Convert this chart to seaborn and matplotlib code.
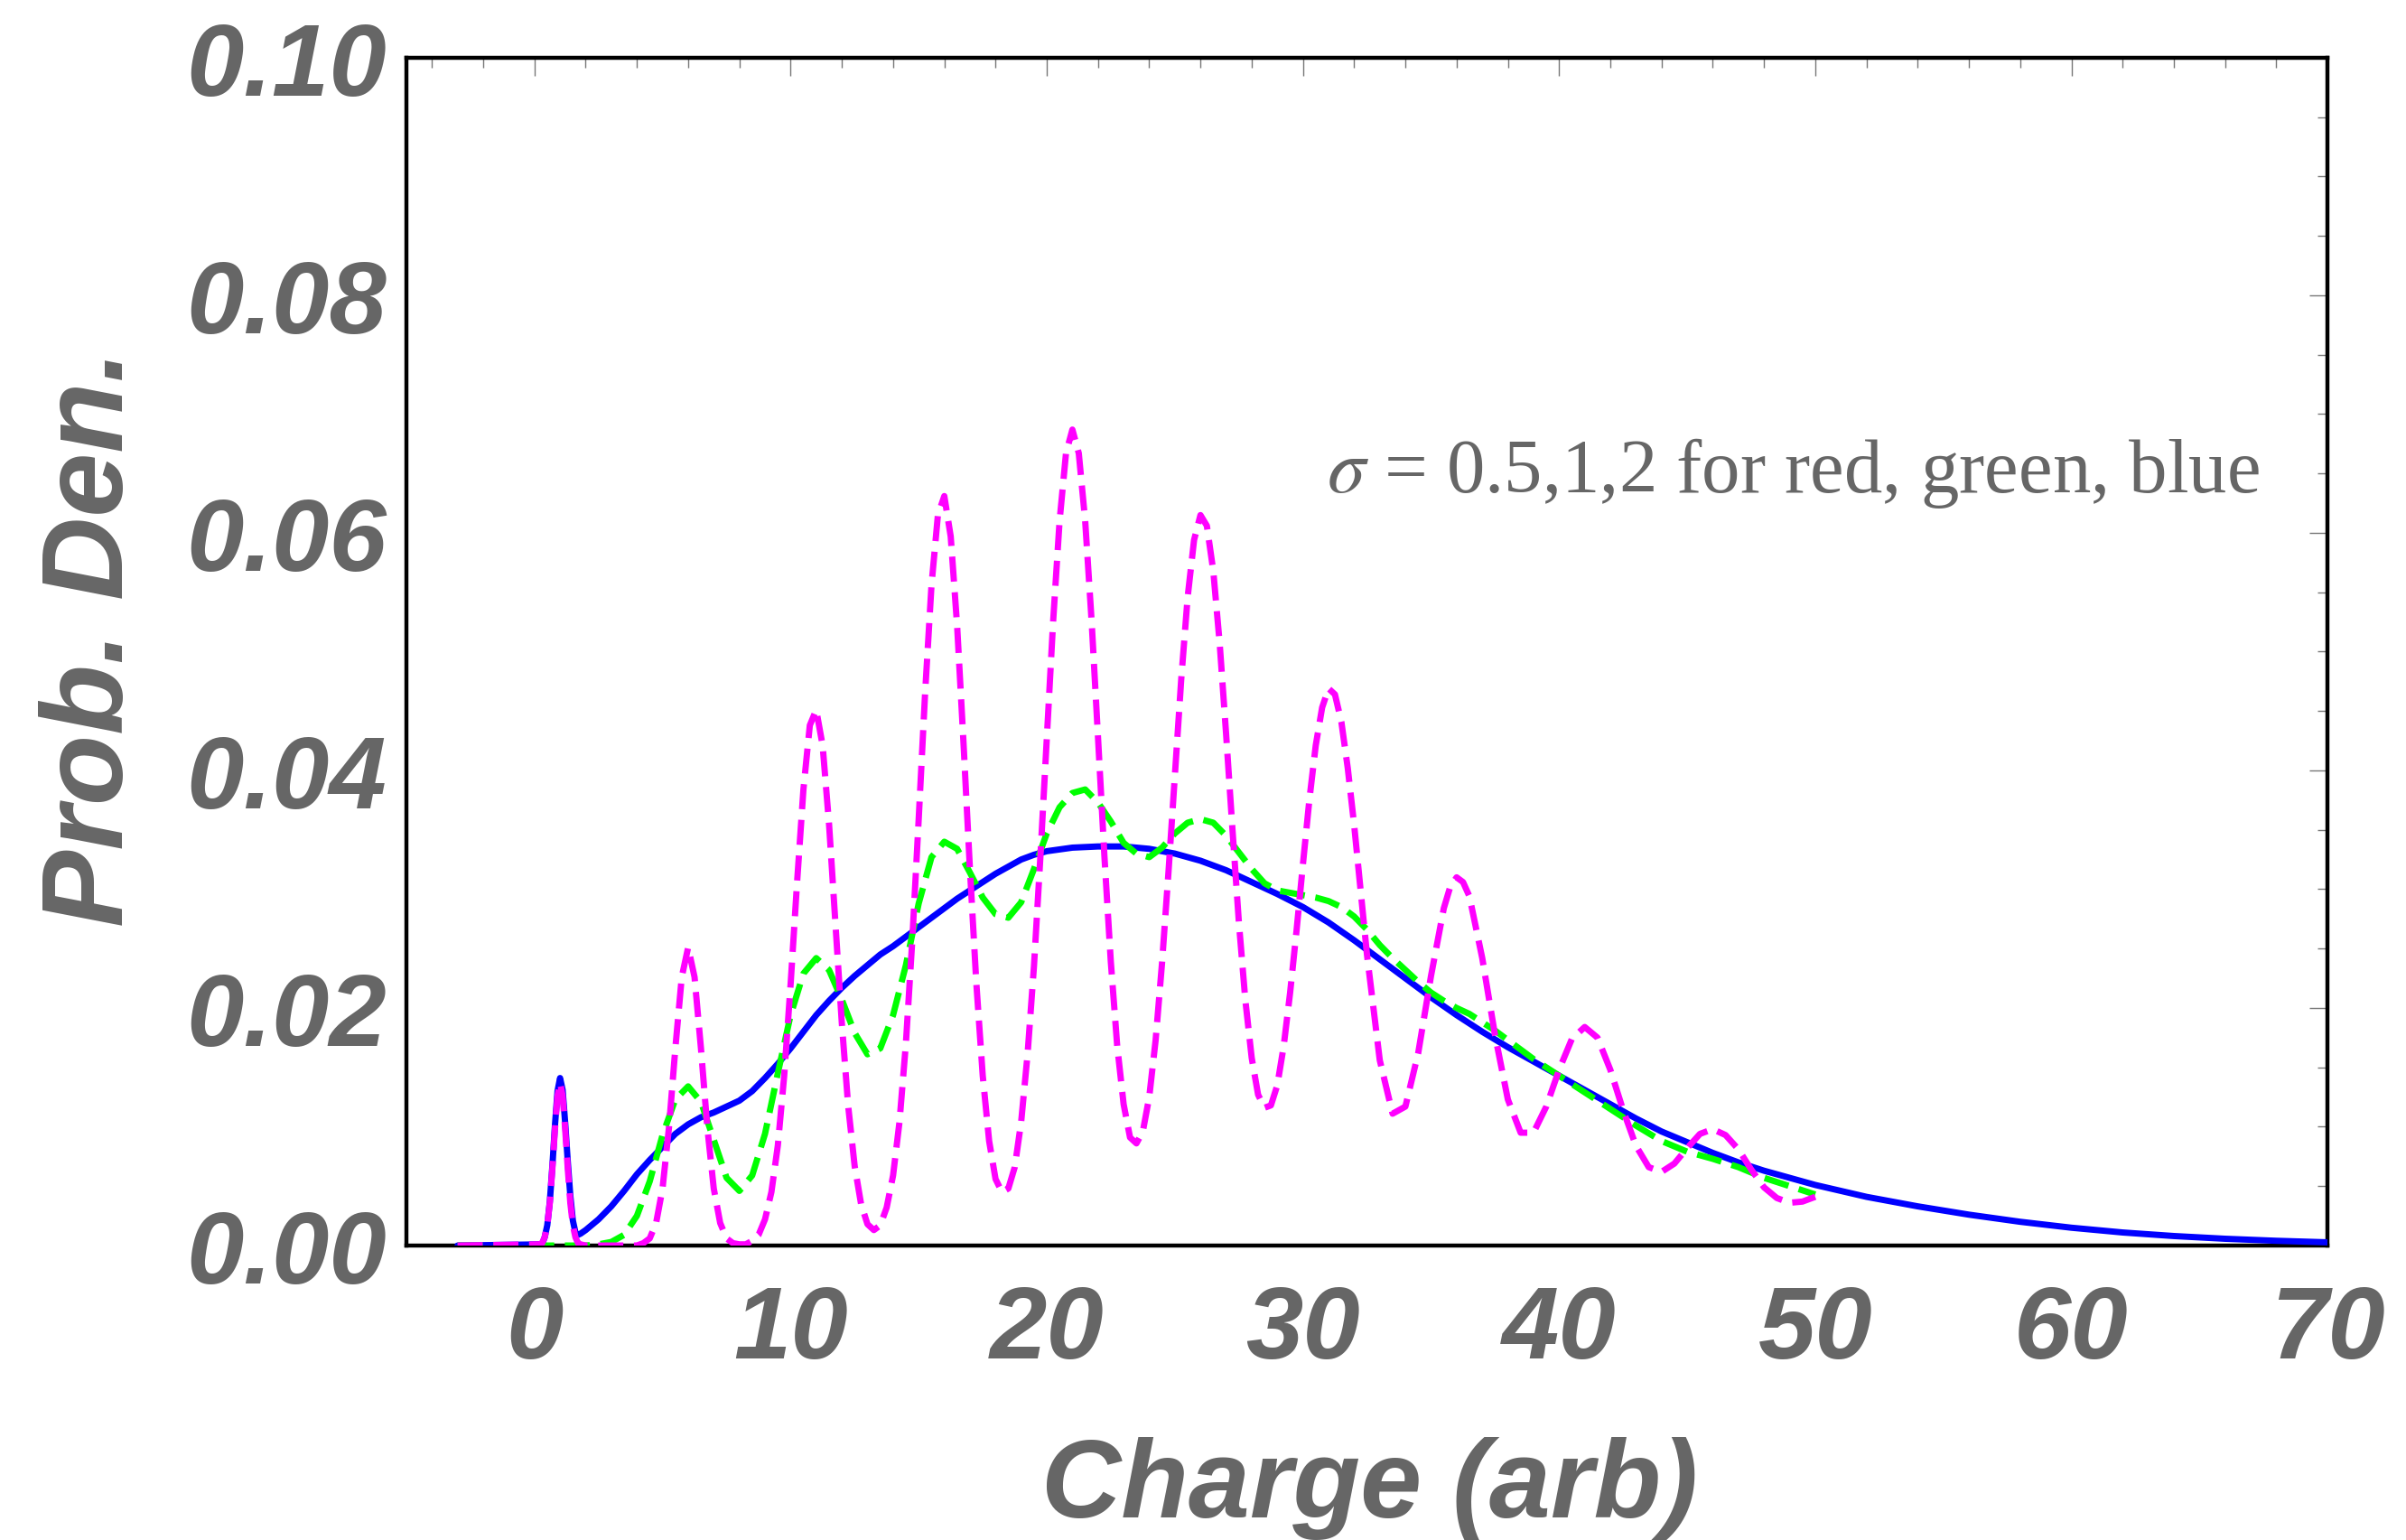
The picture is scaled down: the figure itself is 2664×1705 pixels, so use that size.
import matplotlib
matplotlib.use("Agg")
import matplotlib.pyplot as plt
from matplotlib.ticker import MultipleLocator, NullFormatter
import seaborn as sns
import pandas as pd

sns.set_style("white")
plt.rcParams["font.family"] = ["Liberation Sans", "DejaVu Sans"]
plt.rcParams["mathtext.fontset"] = "stix"

GRAY = "#666666"

# ---------------- data ----------------
x_ticks = [0, 10, 20, 30, 40, 50, 60, 70]
x_tick_labels = ["0", "10", "20", "30", "40", "50", "60", "70"]
y_ticks = [0.00, 0.02, 0.04, 0.06, 0.08, 0.10]
y_tick_labels = ["0.00", "0.02", "0.04", "0.06", "0.08", "0.10"]

# sigma = 2 (blue, solid)
blue_pts = [
    (-3.0, 0.0), (0.3, 0.0001), (0.4, 0.0007), (0.5, 0.0017), (0.6, 0.0037),
    (0.7, 0.0067), (0.8, 0.0101), (0.9, 0.0130), (1.0, 0.0141), (1.1, 0.0131),
    (1.2, 0.0103), (1.3, 0.0071), (1.4, 0.0042), (1.5, 0.0021), (1.6, 0.0011),
    (1.7, 0.0009), (1.8, 0.0010), (2.0, 0.0013), (2.5, 0.0022), (3.0, 0.0033),
    (3.5, 0.0046), (4.0, 0.0060), (4.5, 0.0072), (5.0, 0.0083), (5.5, 0.0094),
    (6.0, 0.0102), (6.5, 0.0108), (7.0, 0.0112), (7.5, 0.0117), (8.0, 0.0122),
    (8.5, 0.0130), (9.0, 0.0141), (9.5, 0.0153), (10.0, 0.0166), (10.5, 0.0180),
    (11.0, 0.0194), (11.5, 0.0206), (12.0, 0.0217), (12.5, 0.0227), (13.0, 0.0236),
    (13.5, 0.0245), (14.0, 0.0252), (14.5, 0.0260), (15.0, 0.0268), (15.5, 0.0276),
    (16.0, 0.0284), (16.5, 0.0292), (17.0, 0.0299), (17.5, 0.0306), (18.0, 0.0313),
    (18.5, 0.0319), (19.0, 0.0325), (19.5, 0.0329), (20.0, 0.0332), (21.0, 0.0335),
    (22.0, 0.0336), (23.0, 0.0336), (24.0, 0.0334), (25.0, 0.0330), (26.0, 0.0324),
    (27.0, 0.0316), (28.0, 0.0306), (29.0, 0.0296), (30.0, 0.0285), (31.0, 0.0272),
    (32.0, 0.0257), (33.0, 0.0241), (34.0, 0.0225), (35.0, 0.0209), (36.0, 0.0194),
    (37.0, 0.0180), (38.0, 0.0167), (39.0, 0.0155), (40.0, 0.0143), (41.0, 0.0131),
    (42.0, 0.0119), (43.0, 0.0107), (44.0, 0.0096), (45.0, 0.0087), (46.0, 0.0078),
    (47.0, 0.0070), (48.0, 0.0063), (49.0, 0.0057), (50.0, 0.0051), (52.0, 0.0041),
    (54.0, 0.0033), (56.0, 0.0026), (58.0, 0.0020), (60.0, 0.00150), (62.0, 0.00110),
    (64.0, 0.00080), (66.0, 0.00057), (68.0, 0.00040), (70.0, 0.00027),
]

# sigma = 1 (green, dashed)
green_pts = [
    (-3.0, 0.0), (2.0, 0.0), (2.5, 0.0001), (3.0, 0.0003), (3.5, 0.0009),
    (4.0, 0.0025), (4.5, 0.0054), (5.0, 0.0093), (5.5, 0.0123), (6.0, 0.0134),
    (6.5, 0.0121), (7.0, 0.0089), (7.5, 0.0057), (8.0, 0.0046), (8.5, 0.0059),
    (9.0, 0.0094), (9.5, 0.0145), (10.0, 0.0194), (10.5, 0.0229), (11.0, 0.0242),
    (11.5, 0.0232), (12.0, 0.0207), (12.5, 0.0179), (13.0, 0.0161), (13.5, 0.0166),
    (14.0, 0.0194), (14.5, 0.0236), (15.0, 0.0288), (15.5, 0.0327), (16.0, 0.0340),
    (16.5, 0.0334), (17.0, 0.0314), (17.5, 0.0293), (18.0, 0.0279), (18.5, 0.0276),
    (19.0, 0.0289), (19.5, 0.0317), (20.0, 0.0347), (20.5, 0.0369), (21.0, 0.0381),
    (21.5, 0.0384), (22.0, 0.0373), (22.5, 0.0357), (23.0, 0.0339), (23.5, 0.0330),
    (24.0, 0.0327), (24.5, 0.0335), (25.0, 0.0347), (25.5, 0.0356), (26.0, 0.0359),
    (26.5, 0.0356), (27.0, 0.0345), (27.5, 0.0331), (28.0, 0.0317), (28.5, 0.0305),
    (29.0, 0.0299), (29.5, 0.0297), (30.0, 0.0295), (30.5, 0.0293), (31.0, 0.0290),
    (31.5, 0.0285), (32.0, 0.0277), (32.5, 0.0266), (33.0, 0.0253), (33.5, 0.0242),
    (34.0, 0.0232), (34.5, 0.0222), (35.0, 0.0213), (35.5, 0.0206), (36.0, 0.0200),
    (36.5, 0.0195), (37.0, 0.0188), (37.5, 0.0181), (38.0, 0.0173), (38.5, 0.0165),
    (39.0, 0.0157), (39.5, 0.0150), (40.0, 0.0143), (41.0, 0.0129), (42.0, 0.0115),
    (43.0, 0.0101), (44.0, 0.0088), (45.0, 0.0079), (46.0, 0.0073), (47.0, 0.0066),
    (48.0, 0.0057), (49.0, 0.0050), (50.0, 0.0043),
]

# sigma = 0.5 (magenta, dashed)
magenta_pts = [
    (-3.0, 0.0), (0.2, 0.0001), (0.3, 0.0002), (0.4, 0.0007), (0.5, 0.0017),
    (0.6, 0.0036), (0.7, 0.0065), (0.8, 0.0098), (0.9, 0.0126), (1.0, 0.0137),
    (1.1, 0.0126), (1.2, 0.0098), (1.3, 0.0065), (1.4, 0.0036), (1.5, 0.0017),
    (1.6, 0.0007), (1.7, 0.0002), (1.8, 0.0001), (2.0, 0.0), (3.0, 0.0),
    (4.0, 0.0), (4.25, 0.0002), (4.5, 0.0006), (4.75, 0.0019), (5.0, 0.0048),
    (5.25, 0.0099), (5.5, 0.0166), (5.75, 0.0226), (6.0, 0.0251), (6.25, 0.0226),
    (6.5, 0.0166), (6.75, 0.0099), (7.0, 0.0048), (7.25, 0.0019), (7.5, 0.0006),
    (7.75, 0.0002), (8.0, 0.0001), (8.25, 0.0001), (8.5, 0.0004), (8.75, 0.0009),
    (9.0, 0.0022), (9.25, 0.0045), (9.5, 0.0084), (9.75, 0.0143), (10.0, 0.0220),
    (10.25, 0.0305), (10.5, 0.0384), (10.75, 0.0438), (11.0, 0.0451), (11.25, 0.0421),
    (11.5, 0.0355), (11.75, 0.0271), (12.0, 0.0187), (12.25, 0.0117), (12.5, 0.0067),
    (12.75, 0.0035), (13.0, 0.0018), (13.25, 0.0013), (13.5, 0.0017), (13.75, 0.0032),
    (14.0, 0.0059), (14.25, 0.0104), (14.5, 0.0170), (14.75, 0.0257), (15.0, 0.0359),
    (15.25, 0.0465), (15.5, 0.0556), (15.75, 0.0615), (16.0, 0.0631), (16.25, 0.0597),
    (16.5, 0.0522), (16.75, 0.0423), (17.0, 0.0317), (17.25, 0.0221), (17.5, 0.0143),
    (17.75, 0.0088), (18.0, 0.0056), (18.25, 0.0045), (18.5, 0.0048), (18.75, 0.0066),
    (19.0, 0.0104), (19.25, 0.0161), (19.5, 0.0235), (19.75, 0.0327), (20.0, 0.0427),
    (20.25, 0.0526), (20.5, 0.0610), (20.75, 0.0667), (21.0, 0.0687), (21.25, 0.0667),
    (21.5, 0.0610), (21.75, 0.0526), (22.0, 0.0428), (22.25, 0.0328), (22.5, 0.0239),
    (22.75, 0.0168), (23.0, 0.0119), (23.25, 0.0091), (23.5, 0.0086), (23.75, 0.0096),
    (24.0, 0.0125), (24.25, 0.0173), (24.5, 0.0238), (24.75, 0.0314), (25.0, 0.0396),
    (25.25, 0.0477), (25.5, 0.0546), (25.75, 0.0594), (26.0, 0.0615), (26.25, 0.0606),
    (26.5, 0.0568), (26.75, 0.0507), (27.0, 0.0431), (27.25, 0.0350), (27.5, 0.0272),
    (27.75, 0.0207), (28.0, 0.0158), (28.25, 0.0127), (28.5, 0.0116), (28.75, 0.0118),
    (29.0, 0.0135), (29.25, 0.0168), (29.5, 0.0213), (29.75, 0.0265), (30.0, 0.0321),
    (30.25, 0.0375), (30.5, 0.0421), (30.75, 0.0453), (31.0, 0.0469), (31.25, 0.0464),
    (31.5, 0.0441), (31.75, 0.0402), (32.0, 0.0354), (32.5, 0.0245), (33.0, 0.0156),
    (33.5, 0.0111), (34.0, 0.0117), (34.5, 0.0162), (35.0, 0.0227), (35.5, 0.0284),
    (35.75, 0.0302), (36.0, 0.0310), (36.25, 0.0306), (36.5, 0.0294), (37.0, 0.0242),
    (37.5, 0.0177), (38.0, 0.0123), (38.5, 0.0095), (39.0, 0.0095), (39.5, 0.0117),
    (40.0, 0.0148), (40.5, 0.0174), (41.0, 0.0184), (41.5, 0.0175), (42.0, 0.0148),
    (42.5, 0.0114), (43.0, 0.0084), (43.5, 0.0066), (44.0, 0.0062), (44.5, 0.0069),
    (45.0, 0.0082), (45.5, 0.0094), (46.0, 0.0098), (46.5, 0.0093), (47.0, 0.0081),
    (47.5, 0.0064), (48.0, 0.0049), (48.5, 0.0040), (49.0, 0.0036), (49.5, 0.0037),
    (50.0, 0.0041),
]

annotation = "$\\sigma$ = 0.5,1,2 for red, green, blue"
x_label = "Charge (arb)"
y_label = "Prob. Den."

# ---------------- figure ----------------
fig = plt.figure(figsize=(13.32, 8.53), dpi=200)
ax = fig.add_axes([0.1689, 0.1911, 0.7985, 0.7708])

LW = 2.5
DASH = (0, (4.0, 1.7))


def draw(pts, color, ls, z):
    df = pd.DataFrame(pts, columns=["charge", "density"])
    sns.lineplot(data=df, x="charge", y="density", ax=ax, color=color,
                 linewidth=LW, linestyle=ls, estimator=None, sort=False,
                 zorder=z)


draw(blue_pts, "#0000FF", "-", 3)
draw(green_pts, "#00FF00", DASH, 4)
draw(magenta_pts, "#FF00FF", DASH, 5)

ax.set_xlim(-5, 70)
ax.set_ylim(0, 0.10)
ax.set_xlabel("")
ax.set_ylabel("")

tick_font = dict(fontsize=41, fontweight="bold", fontstyle="italic",
                 color=GRAY, family=["Liberation Sans", "DejaVu Sans"])
ax.set_xticks(x_ticks, x_tick_labels, **tick_font)
ax.set_yticks(y_ticks, y_tick_labels, **tick_font)
ax.xaxis.set_minor_locator(MultipleLocator(2))
ax.yaxis.set_minor_locator(MultipleLocator(0.005))
ax.tick_params(which="both", direction="in", color=GRAY, width=1.3,
               top=False, right=False)
ax.tick_params(which="major", length=7.2)
ax.tick_params(which="minor", length=4.0)
ax.tick_params(axis="x", which="major", pad=15)
ax.tick_params(axis="y", which="major", pad=8)

for s in ax.spines.values():
    s.set_visible(True)
    s.set_color("black")
    s.set_linewidth(1.6)

# thin mirrored ticks on top and right
secx = ax.secondary_xaxis("top")
secx.set_xticks(x_ticks)
secx.xaxis.set_minor_locator(MultipleLocator(2))
secx.xaxis.set_major_formatter(NullFormatter())
secx.tick_params(which="both", direction="in", color="#777777", width=0.5,
                 labeltop=False)
secx.tick_params(which="major", length=7.2)
secx.tick_params(which="minor", length=4.0)
for s in secx.spines.values():
    s.set_visible(False)

secy = ax.secondary_yaxis("right")
secy.set_yticks(y_ticks)
secy.yaxis.set_minor_locator(MultipleLocator(0.005))
secy.yaxis.set_major_formatter(NullFormatter())
secy.tick_params(which="both", direction="in", color="#777777", width=0.5,
                 labelright=False)
secy.tick_params(which="major", length=7.2)
secy.tick_params(which="minor", length=4.0)
for s in secy.spines.values():
    s.set_visible(False)

ax.text(30.93, 0.0635, annotation, fontsize=30.5, color=GRAY,
        family=["Liberation Serif", "DejaVu Serif"], ha="left", va="baseline",
        zorder=6)

label_font = dict(fontweight="bold", fontstyle="italic", color=GRAY,
                  family=["Liberation Sans", "DejaVu Sans"])
fig.text(1516 / 2664, 1 - 1680 / 1706, x_label, ha="center", va="baseline",
         fontsize=44, **label_font)
fig.text(136 / 2664, 1 - 707 / 1706, y_label, rotation=90,
         rotation_mode="anchor", ha="center", va="baseline", fontsize=46,
         **label_font)

fig.savefig("out.png", dpi=200)
